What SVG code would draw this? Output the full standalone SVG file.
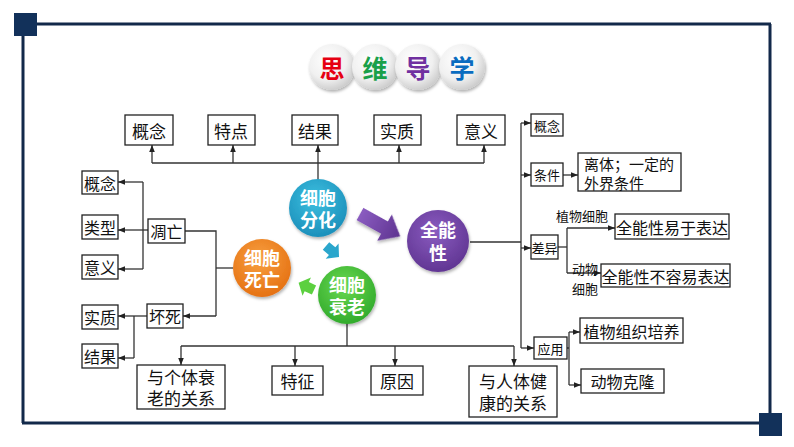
<svg xmlns="http://www.w3.org/2000/svg" width="794" height="447" viewBox="0 0 794 447">
<defs>
<style>
.frame{stroke:#12294a;stroke-width:3;fill:none}
.bx{fill:#fff;stroke:#222;stroke-width:1.3}
.t{font-family:"Noto Sans CJK SC","Liberation Serif",serif;fill:#111;text-anchor:middle;dominant-baseline:central}
.ln{stroke:#333;stroke-width:1.3;fill:none}
.ct{font-family:"Noto Sans CJK SC",sans-serif;font-weight:bold;font-size:18px;fill:#fff;text-anchor:middle;dominant-baseline:central}
.tt{font-family:"Noto Sans CJK SC",sans-serif;font-weight:bold;font-size:25px;text-anchor:middle;dominant-baseline:central}
</style>
<marker id="ah" viewBox="0 0 10 10" refX="10" refY="5" markerWidth="7" markerHeight="7" orient="auto" markerUnits="userSpaceOnUse"><path d="M0,1 L10,5 L0,9 z" fill="#222"/></marker>
<radialGradient id="gw" cx="40%" cy="35%" r="70%"><stop offset="0" stop-color="#ffffff"/><stop offset="0.6" stop-color="#f0f0f0"/><stop offset="1" stop-color="#c8c8c8"/></radialGradient>
<radialGradient id="gb" cx="45%" cy="35%" r="70%"><stop offset="0" stop-color="#3cc0e0"/><stop offset="1" stop-color="#1a8cb8"/></radialGradient>
<radialGradient id="gp" cx="45%" cy="35%" r="70%"><stop offset="0" stop-color="#8a5cc0"/><stop offset="1" stop-color="#5e3390"/></radialGradient>
<radialGradient id="go" cx="45%" cy="35%" r="70%"><stop offset="0" stop-color="#f8a040"/><stop offset="1" stop-color="#e46e10"/></radialGradient>
<radialGradient id="gg" cx="45%" cy="35%" r="70%"><stop offset="0" stop-color="#6ad850"/><stop offset="1" stop-color="#2ea82a"/></radialGradient>
<linearGradient id="pa" x1="0" y1="0" x2="1" y2="0"><stop offset="0" stop-color="#8a5cc0"/><stop offset="1" stop-color="#5e3390"/></linearGradient>
<filter id="sh" x="-30%" y="-30%" width="160%" height="160%"><feDropShadow dx="1" dy="2" stdDeviation="1.5" flood-color="#000" flood-opacity="0.3"/></filter>
</defs>
<rect width="794" height="447" fill="#fff"/>
<g id="frame">
<line class="frame" x1="37" y1="24" x2="771" y2="24"/>
<line class="frame" x1="770" y1="24" x2="770" y2="413"/>
<line class="frame" x1="23" y1="36" x2="23" y2="423"/>
<line class="frame" x1="22" y1="423" x2="760" y2="423"/>
<rect x="14" y="13" width="23" height="23" fill="#12315a"/>
<rect x="759" y="413" width="23" height="23" fill="#12315a"/>
</g>
<g id="title">
<circle cx="332" cy="67" r="23" fill="url(#gw)" filter="url(#sh)"/>
<circle cx="375" cy="67" r="23" fill="url(#gw)" filter="url(#sh)"/>
<circle cx="418" cy="67" r="23" fill="url(#gw)" filter="url(#sh)"/>
<circle cx="462" cy="67" r="23" fill="url(#gw)" filter="url(#sh)"/>
<text class="tt" x="332" y="67" fill="#e60012">思</text>
<text class="tt" x="375" y="67" fill="#1aa04a">维</text>
<text class="tt" x="418" y="67" fill="#7030a0">导</text>
<text class="tt" x="462" y="67" fill="#0a6cc0">学</text>
</g>
<g id="connectors">
<line class="ln" x1="318" y1="180" x2="318" y2="163"/>
<line class="ln" x1="152" y1="163" x2="484" y2="163"/>
<line class="ln" x1="152" y1="163" x2="152" y2="145" marker-end="url(#ah)"/>
<line class="ln" x1="233" y1="163" x2="233" y2="145" marker-end="url(#ah)"/>
<line class="ln" x1="318" y1="163" x2="318" y2="145" marker-end="url(#ah)"/>
<line class="ln" x1="399" y1="163" x2="399" y2="145" marker-end="url(#ah)"/>
<line class="ln" x1="484" y1="163" x2="484" y2="145" marker-end="url(#ah)"/>
<line class="ln" x1="143" y1="182" x2="143" y2="269"/>
<line class="ln" x1="143" y1="182" x2="118" y2="182" marker-end="url(#ah)"/>
<line class="ln" x1="148" y1="230" x2="118" y2="230" marker-end="url(#ah)"/>
<line class="ln" x1="143" y1="269" x2="118" y2="269" marker-end="url(#ah)"/>
<polyline class="ln" points="185,231 216,231 216,316"/>
<line class="ln" x1="216" y1="316" x2="183" y2="316" marker-end="url(#ah)"/>
<line class="ln" x1="216" y1="268" x2="233" y2="268"/>
<line class="ln" x1="147" y1="316" x2="118" y2="316" marker-end="url(#ah)"/>
<polyline class="ln" points="134,316 134,358"/>
<line class="ln" x1="134" y1="358" x2="118" y2="358" marker-end="url(#ah)"/>
<line class="ln" x1="347" y1="323" x2="347" y2="346"/>
<line class="ln" x1="181" y1="346" x2="514" y2="346"/>
<line class="ln" x1="181" y1="346" x2="181" y2="365" marker-end="url(#ah)"/>
<line class="ln" x1="295" y1="346" x2="295" y2="366" marker-end="url(#ah)"/>
<line class="ln" x1="395" y1="346" x2="395" y2="366" marker-end="url(#ah)"/>
<line class="ln" x1="514" y1="346" x2="514" y2="366" marker-end="url(#ah)"/>
<line class="ln" x1="470" y1="242" x2="521" y2="242"/>
<line class="ln" x1="521" y1="123" x2="521" y2="348"/>
<line class="ln" x1="521" y1="123" x2="531" y2="123" marker-end="url(#ah)"/>
<line class="ln" x1="521" y1="175" x2="531" y2="175" marker-end="url(#ah)"/>
<line class="ln" x1="521" y1="248" x2="531" y2="248" marker-end="url(#ah)"/>
<line class="ln" x1="521" y1="348" x2="534" y2="348" marker-end="url(#ah)"/>
<line class="ln" x1="563" y1="175" x2="578" y2="175" marker-end="url(#ah)"/>
<line class="ln" x1="558" y1="247" x2="567" y2="247"/>
<line class="ln" x1="567" y1="228" x2="567" y2="273"/>
<line class="ln" x1="567" y1="228" x2="615" y2="228" marker-end="url(#ah)"/>
<line class="ln" x1="567" y1="273" x2="601" y2="273" marker-end="url(#ah)"/>
<line class="ln" x1="567" y1="348" x2="569" y2="348"/>
<line class="ln" x1="569" y1="332" x2="569" y2="385"/>
<line class="ln" x1="569" y1="332" x2="580" y2="332" marker-end="url(#ah)"/>
<line class="ln" x1="569" y1="385" x2="581" y2="385" marker-end="url(#ah)"/>
</g>
<g id="n-fenhua"><circle cx="318" cy="208" r="29" fill="url(#gb)" filter="url(#sh)"/><text class="ct" x="318" y="197">细胞</text><text class="ct" x="318" y="219">分化</text></g>
<g id="n-quanneng"><circle cx="438" cy="241" r="31" fill="url(#gp)" filter="url(#sh)"/><text class="ct" x="438" y="229">全能</text><text class="ct" x="438" y="252">性</text></g>
<g id="n-siwang"><circle cx="262" cy="268" r="29" fill="url(#go)" filter="url(#sh)"/><text class="ct" x="262" y="257">细胞</text><text class="ct" x="262" y="279">死亡</text></g>
<g id="n-shuailao"><circle cx="347" cy="295" r="29" fill="url(#gg)" filter="url(#sh)"/><text class="ct" x="347" y="284">细胞</text><text class="ct" x="347" y="306">衰老</text></g>
<g id="arrows-big">
<polygon points="0,-7 28,-7 28,-15 46,0 28,15 28,7 0,7" fill="url(#pa)" transform="translate(360,214) rotate(29)" filter="url(#sh)"/>
<polygon points="0,-5 8,-5 8,-10 17,0 8,10 8,5 0,5" fill="#2aa6cc" transform="translate(326,246) rotate(40)"/>
<polygon points="0,-5 8,-5 8,-10 17,0 8,10 8,5 0,5" fill="#5cd040" transform="translate(314,290) rotate(205)"/>
</g>
<g id="top-boxes">
<g id="n-gn1"><rect class="bx" x="125" y="115" width="48" height="30"/><text class="t" x="149" y="130" font-size="17">概念</text></g>
<g id="n-td"><rect class="bx" x="208" y="115" width="47" height="30"/><text class="t" x="231" y="130" font-size="17">特点</text></g>
<g id="n-jg1"><rect class="bx" x="292" y="115" width="46" height="30"/><text class="t" x="315" y="130" font-size="17">结果</text></g>
<g id="n-sz1"><rect class="bx" x="374" y="115" width="47" height="30"/><text class="t" x="397" y="130" font-size="17">实质</text></g>
<g id="n-yy1"><rect class="bx" x="457" y="115" width="48" height="30"/><text class="t" x="481" y="130" font-size="17">意义</text></g>
</g>
<g id="left-boxes">
<g id="n-gn2"><rect class="bx" x="82" y="171" width="36" height="23"/><text class="t" x="100" y="182.5" font-size="16">概念</text></g>
<g id="n-lx"><rect class="bx" x="82" y="215" width="36" height="24"/><text class="t" x="100" y="227" font-size="16">类型</text></g>
<g id="n-yy2"><rect class="bx" x="82" y="255" width="36" height="24"/><text class="t" x="100" y="267" font-size="16">意义</text></g>
<g id="n-sz2"><rect class="bx" x="82" y="305" width="36" height="24"/><text class="t" x="100" y="317" font-size="16">实质</text></g>
<g id="n-jg2"><rect class="bx" x="82" y="344" width="36" height="24"/><text class="t" x="100" y="356" font-size="16">结果</text></g>
<g id="n-dw"><rect class="bx" x="148" y="219" width="37" height="24"/><text class="t" x="166.5" y="231" font-size="16">凋亡</text></g>
<g id="n-hs"><rect class="bx" x="147" y="304" width="36" height="24"/><text class="t" x="165" y="316" font-size="16">坏死</text></g>
</g>
<g id="bottom-boxes">
<g id="n-gt"><rect class="bx" x="137" y="365" width="88" height="44"/><text class="t" x="181" y="376" font-size="17">与个体衰</text><text class="t" x="181" y="397" font-size="17">老的关系</text></g>
<g id="n-tz"><rect class="bx" x="272" y="366" width="51" height="29"/><text class="t" x="297.5" y="380.5" font-size="17">特征</text></g>
<g id="n-yuany"><rect class="bx" x="371" y="366" width="52" height="29"/><text class="t" x="397" y="380.5" font-size="17">原因</text></g>
<g id="n-jk"><rect class="bx" x="469" y="366" width="88" height="51"/><text class="t" x="513" y="380" font-size="17">与人体健</text><text class="t" x="513" y="402" font-size="17">康的关系</text></g>
</g>
<g id="right-boxes">
<g id="n-gn3"><rect class="bx" x="531" y="114" width="32" height="22"/><text class="t" x="547" y="125" font-size="13">概念</text></g>
<g id="n-tj"><rect class="bx" x="531" y="163" width="32" height="23"/><text class="t" x="547" y="174.5" font-size="13">条件</text></g>
<g id="n-cy"><rect class="bx" x="531" y="235" width="27" height="24"/><text class="t" x="544.5" y="247" font-size="13">差异</text></g>
<g id="n-yyong"><rect class="bx" x="534" y="337" width="33" height="22"/><text class="t" x="550.5" y="348" font-size="13">应用</text></g>
<g id="n-lt"><rect class="bx" x="578" y="153" width="103" height="38"/><text class="t" x="584" y="163" font-size="15" text-anchor="start" style="text-anchor:start">离体；一定的</text><text class="t" x="584" y="182" font-size="15" style="text-anchor:start">外界条件</text></g>
<g id="n-yu"><rect class="bx" x="615" y="214" width="114" height="25"/><text class="t" x="672" y="226.5" font-size="16">全能性易于表达</text></g>
<g id="n-bry"><rect class="bx" x="601" y="264" width="129" height="23"/><text class="t" x="665.5" y="275.5" font-size="16">全能性不容易表达</text></g>
<g id="n-zwz"><rect class="bx" x="580" y="318" width="103" height="25"/><text class="t" x="631.5" y="330.5" font-size="16">植物组织培养</text></g>
<g id="n-dwkl"><rect class="bx" x="581" y="369" width="83" height="24"/><text class="t" x="622.5" y="381" font-size="16">动物克隆</text></g>
<text class="t" x="582" y="215" font-size="13">植物细胞</text>
<text class="t" x="585" y="268" font-size="13">动物</text>
<text class="t" x="585" y="288" font-size="13">细胞</text>
</g>
</svg>
